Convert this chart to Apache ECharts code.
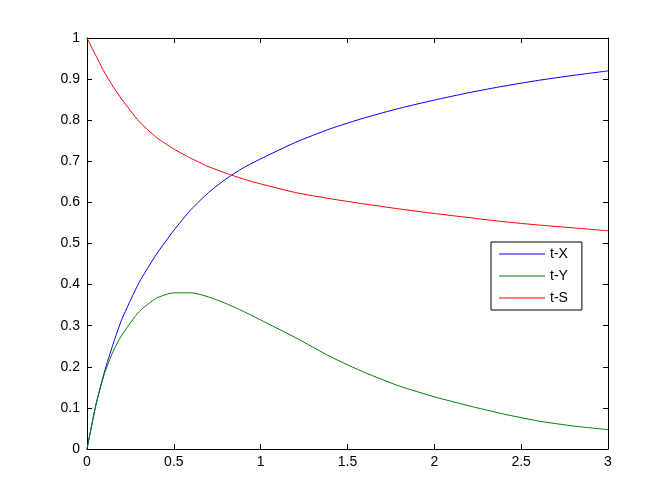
<!DOCTYPE html>
<html>
<head>
<meta charset="utf-8">
<script src="https://cdn.jsdelivr.net/npm/echarts@6/dist/echarts.min.js"></script>
<style>
  html, body { margin: 0; padding: 0; background: #fff; }
  #main { width: 672px; height: 504px; }
</style>
</head>
<body>
<div id="main"></div>
<script>
// time points
const tValues = [0, 0.05, 0.1, 0.15, 0.2, 0.3, 0.4, 0.5, 0.6, 0.7, 0.8, 0.9, 1.0,
  1.2, 1.4, 1.6, 1.8, 2.0, 2.2, 2.4, 2.6, 2.8, 3.0];
const xValues = [0, 0.105, 0.187, 0.255, 0.315, 0.405, 0.474, 0.532, 0.583, 0.624, 0.657, 0.684, 0.706,
  0.746, 0.779, 0.806, 0.829, 0.849, 0.867, 0.883, 0.897, 0.909, 0.92];
const yValues = [0, 0.105, 0.183, 0.237, 0.277, 0.334, 0.367, 0.38, 0.38, 0.37, 0.354, 0.335, 0.314,
  0.271, 0.225, 0.186, 0.153, 0.127, 0.105, 0.085, 0.068, 0.056, 0.047];
const sValues = [1.0, 0.958, 0.917, 0.882, 0.851, 0.797, 0.758, 0.73, 0.707, 0.687, 0.671, 0.657, 0.645,
  0.624, 0.609, 0.596, 0.584, 0.573, 0.563, 0.553, 0.545, 0.538, 0.531];
const seriesNames = ["t-X", "t-Y", "t-S"];
const seriesColors = ["#0000ff", "#008000", "#ff0000"];

const pairs = (vals) => tValues.map((t, i) => [t, vals[i]]);
const font = "Liberation Sans, Arial, sans-serif";

const boxAxis = (extra) => Object.assign({
  type: "value",
  splitLine: { show: false },
  axisLine: { show: true, onZero: false, lineStyle: { color: "#000", width: 1 } },
  axisTick: { show: true, inside: true, length: 5, lineStyle: { color: "#000" } },
  axisLabel: { color: "#000", fontSize: 14, fontFamily: font }
}, extra);

const option = {
  animation: false,
  backgroundColor: "#fff",
  grid: { left: 87, top: 38, right: 64, bottom: 55, containLabel: false },
  legend: {
    orient: "vertical",
    left: 491,
    top: 242,
    padding: [5, 14, 5, 8],
    itemWidth: 46,
    itemHeight: 14,
    itemGap: 8,
    icon: "path://M0,0 L46,0 L46,1 L0,1 Z",
    borderColor: "#000",
    borderWidth: 1,
    backgroundColor: "#fff",
    textStyle: { color: "#000", fontSize: 14, fontFamily: font },
    data: seriesNames
  },
  xAxis: [
    boxAxis({ min: 0, max: 3, interval: 0.5, position: "bottom",
      axisLabel: { color: "#000", fontSize: 14, fontFamily: font, margin: 6 } }),
    boxAxis({ min: 0, max: 3, interval: 0.5, position: "top", axisLabel: { show: false } })
  ],
  yAxis: [
    boxAxis({ min: 0, max: 1, interval: 0.1, position: "left",
      axisLabel: { color: "#000", fontSize: 14, fontFamily: font, margin: 7 } }),
    boxAxis({ min: 0, max: 1, interval: 0.1, position: "right", axisLabel: { show: false } })
  ],
  series: [xValues, yValues, sValues].map((vals, i) => ({
    name: seriesNames[i],
    type: "line",
    data: pairs(vals),
    symbol: "none",
    smooth: 0.2,
    color: seriesColors[i],
    lineStyle: { color: seriesColors[i], width: 1 }
  }))
};

const myChart = echarts.init(document.getElementById("main"));
myChart.setOption(option);
</script>
</body>
</html>
